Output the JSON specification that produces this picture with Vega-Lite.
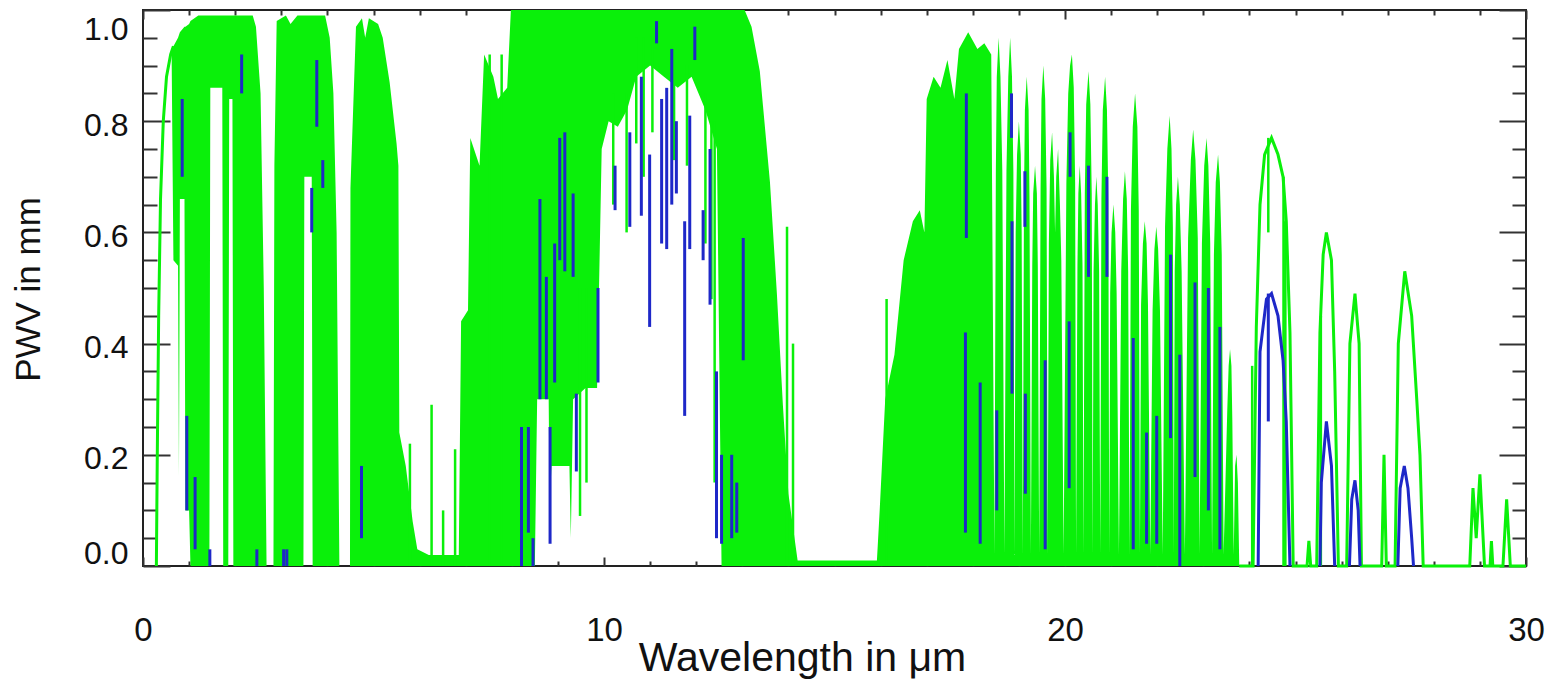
{
  "$schema": "https://vega.github.io/schema/vega-lite/v6.json",
  "width": 1383,
  "height": 556,
  "autosize": {"type": "none"},
  "padding": {"left": 143, "top": 10, "right": 31, "bottom": 115},
  "background": "white",
  "config": {
    "view": {"stroke": "#222", "strokeWidth": 2},
    "axis": {"grid": false, "domain": false, "tickColor": "#333", "tickWidth": 2, "labelFont": "Liberation Sans", "titleFont": "Liberation Sans", "labelColor": "#111", "titleColor": "#111", "titleFontWeight": "normal"}
  },
  "datasets": {
    "greenArea": [
      {"w":0.62,"t":0.93,"b":0.93},{"w":0.66,"t":0.935,"b":0.55},{"w":0.76,"t":0.95,"b":0.54},{"w":0.78,"t":0.955,"b":0.16},{"w":0.80,"t":0.96,"b":0.66},{"w":0.90,"t":0.97,"b":0.66},{"w":0.92,"t":0.97,"b":0.10},{"w":1.00,"t":0.975,"b":0.10},{"w":1.03,"t":0.98,"b":0.0},{"w":1.20,"t":0.99,"b":0.0},{"w":1.44,"t":0.99,"b":0.0},{"w":1.46,"t":0.99,"b":0.86},{"w":1.72,"t":0.99,"b":0.86},{"w":1.74,"t":0.99,"b":0.0},{"w":1.85,"t":0.99,"b":0.0},{"w":1.87,"t":0.99,"b":0.84},{"w":1.94,"t":0.99,"b":0.84},{"w":1.96,"t":0.99,"b":0.0},{"w":2.38,"t":0.99,"b":0.0},{"w":2.45,"t":0.97,"b":0.0},{"w":2.55,"t":0.85,"b":0.0},{"w":2.62,"t":0.5,"b":0.0},{"w":2.68,"t":0.0,"b":0.0},
      {"w":2.83,"t":0.0,"b":0.0},{"w":2.85,"t":0.72,"b":0.0},{"w":2.90,"t":0.98,"b":0.0},{"w":3.10,"t":0.99,"b":0.0},{"w":3.20,"t":0.975,"b":0.0},{"w":3.35,"t":0.99,"b":0.0},{"w":3.48,"t":0.99,"b":0.0},{"w":3.50,"t":0.99,"b":0.70},{"w":3.66,"t":0.99,"b":0.70},{"w":3.68,"t":0.99,"b":0.0},{"w":3.95,"t":0.99,"b":0.0},{"w":4.05,"t":0.95,"b":0.0},{"w":4.13,"t":0.85,"b":0.0},{"w":4.20,"t":0.6,"b":0.0},{"w":4.26,"t":0.0,"b":0.0},
      {"w":4.49,"t":0.0,"b":0.0},{"w":4.50,"t":0.68,"b":0.0},{"w":4.62,"t":0.97,"b":0.0},{"w":4.75,"t":0.985,"b":0.0},{"w":4.82,"t":0.95,"b":0.0},{"w":4.90,"t":0.985,"b":0.0},{"w":5.10,"t":0.975,"b":0.0},{"w":5.20,"t":0.95,"b":0.0},{"w":5.35,"t":0.87,"b":0.0},{"w":5.50,"t":0.76,"b":0.0},{"w":5.54,"t":0.72,"b":0.0},{"w":5.56,"t":0.24,"b":0.0},{"w":5.70,"t":0.18,"b":0.0},{"w":5.85,"t":0.08,"b":0.0},{"w":5.95,"t":0.03,"b":0.0},{"w":6.20,"t":0.02,"b":0.0},{"w":6.85,"t":0.02,"b":0.0},
      {"w":6.90,"t":0.44,"b":0.0},{"w":7.05,"t":0.46,"b":0.0},{"w":7.10,"t":0.77,"b":0.0},{"w":7.30,"t":0.72,"b":0.0},{"w":7.40,"t":0.92,"b":0.0},{"w":7.60,"t":0.88,"b":0.0},{"w":7.70,"t":0.84,"b":0.0},{"w":7.90,"t":0.86,"b":0.0},{"w":7.98,"t":1.0,"b":0.0},{"w":8.50,"t":1.0,"b":0.0},{"w":8.55,"t":1.0,"b":0.30},{"w":8.80,"t":1.0,"b":0.30},{"w":8.82,"t":1.0,"b":0.10},{"w":8.86,"t":1.0,"b":0.18},{"w":9.25,"t":1.0,"b":0.18},{"w":9.28,"t":1.0,"b":0.05},{"w":9.33,"t":1.0,"b":0.30},{"w":9.60,"t":1.0,"b":0.32},{"w":9.85,"t":1.0,"b":0.32},{"w":9.95,"t":1.0,"b":0.75},
      {"w":10.1,"t":1.0,"b":0.80},{"w":10.3,"t":1.0,"b":0.79},{"w":10.5,"t":1.0,"b":0.82},{"w":10.7,"t":1.0,"b":0.88},{"w":11.0,"t":1.0,"b":0.90},{"w":11.3,"t":1.0,"b":0.88},{"w":11.6,"t":1.0,"b":0.86},{"w":11.9,"t":1.0,"b":0.88},{"w":12.2,"t":1.0,"b":0.82},{"w":12.45,"t":1.0,"b":0.75},{"w":12.55,"t":1.0,"b":0.0},{"w":13.05,"t":1.0,"b":0.0},{"w":13.20,"t":0.97,"b":0.0},{"w":13.38,"t":0.89,"b":0.0},{"w":13.60,"t":0.69,"b":0.0},{"w":13.75,"t":0.49,"b":0.0},{"w":13.88,"t":0.29,"b":0.0},{"w":14.0,"t":0.13,"b":0.0},{"w":14.2,"t":0.01,"b":0.0},{"w":15.92,"t":0.01,"b":0.0},
      {"w":15.98,"t":0.10,"b":0.0},{"w":16.10,"t":0.30,"b":0.0},{"w":16.25,"t":0.36,"b":0.0},{"w":16.30,"t":0.38,"b":0.0},{"w":16.50,"t":0.55,"b":0.0},{"w":16.70,"t":0.62,"b":0.0},{"w":16.85,"t":0.64,"b":0.0},{"w":16.95,"t":0.60,"b":0.0},{"w":17.00,"t":0.84,"b":0.0},{"w":17.15,"t":0.88,"b":0.0},{"w":17.30,"t":0.86,"b":0.0},{"w":17.45,"t":0.91,"b":0.0},{"w":17.60,"t":0.84,"b":0.0},{"w":17.70,"t":0.93,"b":0.0},{"w":17.90,"t":0.96,"b":0.0},{"w":18.10,"t":0.93,"b":0.0},{"w":18.25,"t":0.94,"b":0.0},{"w":18.40,"t":0.92,"b":0.0},
      {"w":18.47,"t":0.02,"b":0.0},{"w":18.50,"t":0.71,"b":0.0},{"w":18.52,"t":0.88,"b":0.0},{"w":18.56,"t":0.95,"b":0.0},{"w":18.60,"t":0.88,"b":0.0},{"w":18.64,"t":0.71,"b":0.0},{"w":18.685,"t":0.02,"b":0.0},
      {"w":18.73,"t":0.71,"b":0.0},{"w":18.77,"t":0.88,"b":0.0},{"w":18.81,"t":0.95,"b":0.0},{"w":18.85,"t":0.88,"b":0.0},{"w":18.88,"t":0.71,"b":0.0},{"w":18.905,"t":0.02,"b":0.0},
      {"w":18.93,"t":0.60,"b":0.0},{"w":18.96,"t":0.74,"b":0.0},{"w":19.0,"t":0.80,"b":0.0},{"w":19.04,"t":0.74,"b":0.0},{"w":19.06,"t":0.60,"b":0.0},{"w":19.085,"t":0.02,"b":0.0},
      {"w":19.11,"t":0.66,"b":0.0},{"w":19.13,"t":0.82,"b":0.0},{"w":19.17,"t":0.88,"b":0.0},{"w":19.21,"t":0.82,"b":0.0},{"w":19.23,"t":0.66,"b":0.0},{"w":19.26,"t":0.02,"b":0.0},
      {"w":19.29,"t":0.54,"b":0.0},{"w":19.31,"t":0.67,"b":0.0},{"w":19.35,"t":0.72,"b":0.0},{"w":19.39,"t":0.67,"b":0.0},{"w":19.41,"t":0.54,"b":0.0},{"w":19.44,"t":0.02,"b":0.0},
      {"w":19.47,"t":0.68,"b":0.0},{"w":19.49,"t":0.84,"b":0.0},{"w":19.53,"t":0.90,"b":0.0},{"w":19.57,"t":0.84,"b":0.0},{"w":19.60,"t":0.68,"b":0.0},{"w":19.625,"t":0.02,"b":0.0},
      {"w":19.65,"t":0.58,"b":0.0},{"w":19.68,"t":0.73,"b":0.0},{"w":19.72,"t":0.78,"b":0.0},{"w":19.76,"t":0.70,"b":0.0},{"w":19.785,"t":0.60,"b":0.0},{"w":19.81,"t":0.70,"b":0.0},{"w":19.85,"t":0.75,"b":0.0},{"w":19.89,"t":0.65,"b":0.0},{"w":19.92,"t":0.55,"b":0.0},{"w":19.97,"t":0.02,"b":0.0},
      {"w":20.03,"t":0.69,"b":0.0},{"w":20.07,"t":0.85,"b":0.0},{"w":20.11,"t":0.90,"b":0.0},{"w":20.15,"t":0.92,"b":0.0},{"w":20.19,"t":0.86,"b":0.0},{"w":20.22,"t":0.69,"b":0.0},{"w":20.24,"t":0.02,"b":0.0},
      {"w":20.27,"t":0.54,"b":0.0},{"w":20.29,"t":0.67,"b":0.0},{"w":20.32,"t":0.72,"b":0.0},{"w":20.35,"t":0.67,"b":0.0},{"w":20.38,"t":0.54,"b":0.0},{"w":20.40,"t":0.02,"b":0.0},
      {"w":20.43,"t":0.67,"b":0.0},{"w":20.46,"t":0.83,"b":0.0},{"w":20.51,"t":0.89,"b":0.0},{"w":20.55,"t":0.83,"b":0.0},{"w":20.58,"t":0.67,"b":0.0},{"w":20.60,"t":0.02,"b":0.0},
      {"w":20.62,"t":0.53,"b":0.0},{"w":20.65,"t":0.65,"b":0.0},{"w":20.68,"t":0.70,"b":0.0},{"w":20.71,"t":0.65,"b":0.0},{"w":20.74,"t":0.53,"b":0.0},{"w":20.765,"t":0.02,"b":0.0},
      {"w":20.79,"t":0.66,"b":0.0},{"w":20.82,"t":0.82,"b":0.0},{"w":20.87,"t":0.88,"b":0.0},{"w":20.91,"t":0.82,"b":0.0},{"w":20.94,"t":0.66,"b":0.0},{"w":20.96,"t":0.02,"b":0.0},
      {"w":20.98,"t":0.49,"b":0.0},{"w":21.01,"t":0.60,"b":0.0},{"w":21.05,"t":0.65,"b":0.0},{"w":21.09,"t":0.60,"b":0.0},{"w":21.12,"t":0.49,"b":0.0},{"w":21.17,"t":0.02,"b":0.0},
      {"w":21.22,"t":0.53,"b":0.0},{"w":21.26,"t":0.66,"b":0.0},{"w":21.30,"t":0.71,"b":0.0},{"w":21.34,"t":0.66,"b":0.0},{"w":21.37,"t":0.53,"b":0.0},{"w":21.40,"t":0.02,"b":0.0},
      {"w":21.43,"t":0.64,"b":0.0},{"w":21.47,"t":0.79,"b":0.0},{"w":21.52,"t":0.85,"b":0.0},{"w":21.57,"t":0.79,"b":0.0},{"w":21.60,"t":0.64,"b":0.0},{"w":21.625,"t":0.02,"b":0.0},
      {"w":21.65,"t":0.47,"b":0.0},{"w":21.69,"t":0.58,"b":0.0},{"w":21.73,"t":0.62,"b":0.0},{"w":21.77,"t":0.58,"b":0.0},{"w":21.80,"t":0.47,"b":0.0},{"w":21.85,"t":0.02,"b":0.0},
      {"w":21.90,"t":0.46,"b":0.0},{"w":21.94,"t":0.57,"b":0.0},{"w":21.98,"t":0.61,"b":0.0},{"w":22.02,"t":0.57,"b":0.0},{"w":22.06,"t":0.46,"b":0.0},{"w":22.12,"t":0.02,"b":0.0},
      {"w":22.17,"t":0.61,"b":0.0},{"w":22.22,"t":0.75,"b":0.0},{"w":22.27,"t":0.81,"b":0.0},{"w":22.31,"t":0.75,"b":0.0},{"w":22.34,"t":0.61,"b":0.0},{"w":22.36,"t":0.02,"b":0.0},
      {"w":22.38,"t":0.53,"b":0.0},{"w":22.41,"t":0.65,"b":0.0},{"w":22.45,"t":0.70,"b":0.0},{"w":22.49,"t":0.65,"b":0.0},{"w":22.53,"t":0.53,"b":0.0},{"w":22.60,"t":0.02,"b":0.0},
      {"w":22.67,"t":0.59,"b":0.0},{"w":22.73,"t":0.73,"b":0.0},{"w":22.78,"t":0.785,"b":0.0},{"w":22.83,"t":0.73,"b":0.0},{"w":22.88,"t":0.59,"b":0.0},{"w":22.92,"t":0.02,"b":0.0},
      {"w":22.97,"t":0.58,"b":0.0},{"w":23.02,"t":0.72,"b":0.0},{"w":23.07,"t":0.77,"b":0.0},{"w":23.11,"t":0.72,"b":0.0},{"w":23.15,"t":0.58,"b":0.0},{"w":23.19,"t":0.02,"b":0.0},
      {"w":23.23,"t":0.56,"b":0.0},{"w":23.27,"t":0.69,"b":0.0},{"w":23.32,"t":0.74,"b":0.0},{"w":23.36,"t":0.69,"b":0.0},{"w":23.40,"t":0.56,"b":0.0},{"w":23.44,"t":0.02,"b":0.0},
      {"w":23.52,"t":0.28,"b":0.0},{"w":23.55,"t":0.36,"b":0.0},{"w":23.58,"t":0.39,"b":0.0},{"w":23.61,"t":0.36,"b":0.0},{"w":23.63,"t":0.26,"b":0.0},{"w":23.66,"t":0.02,"b":0.0},
      {"w":23.69,"t":0.18,"b":0.0},{"w":23.72,"t":0.20,"b":0.0},{"w":23.75,"t":0.15,"b":0.0},{"w":23.78,"t":0.0,"b":0.0}
    ],
    "greenRules": [
      {"w":5.79,"a":0,"b":0.22},{"w":6.26,"a":0,"b":0.29},{"w":6.51,"a":0,"b":0.10},{"w":6.77,"a":0,"b":0.21},{"w":7.52,"a":0,"b":0.92},{"w":7.78,"a":0,"b":0.92},{"w":9.48,"a":0.09,"b":0.5},{"w":9.62,"a":0.15,"b":0.5},
      {"w":10.20,"a":0.65,"b":0.85},{"w":10.49,"a":0.60,"b":0.85},{"w":10.70,"a":0.76,"b":0.95},{"w":10.86,"a":0.70,"b":0.95},{"w":11.05,"a":0.78,"b":0.95},{"w":11.52,"a":0.73,"b":0.9},{"w":11.80,"a":0.72,"b":0.9},{"w":12.20,"a":0.58,"b":0.85},{"w":12.33,"a":0.48,"b":0.8},{"w":12.40,"a":0.15,"b":0.8},
      {"w":13.97,"a":0,"b":0.61},{"w":14.10,"a":0,"b":0.40},{"w":16.13,"a":0,"b":0.48},{"w":24.06,"a":0,"b":0.36},{"w":24.41,"a":0.60,"b":0.77},{"w":24.74,"a":0,"b":0.70},{"w":24.78,"a":0,"b":0.62},{"w":25.55,"a":0,"b":0.45}
    ],
    "greenLines": [
      {"s":1,"w":0.29,"y":0},{"s":1,"w":0.31,"y":0.2},{"s":1,"w":0.34,"y":0.45},{"s":1,"w":0.38,"y":0.66},{"s":1,"w":0.44,"y":0.80},{"s":1,"w":0.51,"y":0.88},{"s":1,"w":0.60,"y":0.92},{"s":1,"w":0.66,"y":0.935},
      {"s":2,"w":23.78,"y":0},{"s":2,"w":24.08,"y":0},{"s":2,"w":24.15,"y":0.43},{"s":2,"w":24.23,"y":0.65},{"s":2,"w":24.33,"y":0.74},{"s":2,"w":24.48,"y":0.77},{"s":2,"w":24.62,"y":0.74},{"s":2,"w":24.73,"y":0.70},{"s":2,"w":24.80,"y":0.62},{"s":2,"w":24.88,"y":0.42},{"s":2,"w":24.95,"y":0},{"s":2,"w":25.25,"y":0},{"s":2,"w":25.29,"y":0.045},{"s":2,"w":25.33,"y":0},{"s":2,"w":25.46,"y":0},{"s":2,"w":25.53,"y":0.42},{"s":2,"w":25.60,"y":0.56},{"s":2,"w":25.67,"y":0.60},{"s":2,"w":25.78,"y":0.55},{"s":2,"w":25.85,"y":0.35},{"s":2,"w":25.93,"y":0},{"s":2,"w":26.11,"y":0},{"s":2,"w":26.18,"y":0.40},{"s":2,"w":26.29,"y":0.49},{"s":2,"w":26.38,"y":0.40},{"s":2,"w":26.43,"y":0},{"s":2,"w":26.87,"y":0},{"s":2,"w":26.92,"y":0.20},{"s":2,"w":26.97,"y":0},{"s":2,"w":27.16,"y":0},{"s":2,"w":27.23,"y":0.40},{"s":2,"w":27.37,"y":0.53},{"s":2,"w":27.52,"y":0.45},{"s":2,"w":27.63,"y":0.30},{"s":2,"w":27.70,"y":0.20},{"s":2,"w":27.77,"y":0},{"s":2,"w":28.78,"y":0},{"s":2,"w":28.85,"y":0.14},{"s":2,"w":28.92,"y":0.05},{"s":2,"w":29.0,"y":0.165},{"s":2,"w":29.1,"y":0},{"s":2,"w":29.22,"y":0},{"s":2,"w":29.25,"y":0.045},{"s":2,"w":29.28,"y":0},{"s":2,"w":29.50,"y":0},{"s":2,"w":29.58,"y":0.12},{"s":2,"w":29.66,"y":0},{"s":2,"w":30,"y":0}
    ],
    "blueRules": [
      {"w":0.85,"a":0.70,"b":0.84},{"w":0.95,"a":0.10,"b":0.27},{"w":1.13,"a":0.03,"b":0.16},{"w":1.45,"a":0,"b":0.03},{"w":2.14,"a":0.85,"b":0.92},{"w":2.47,"a":0,"b":0.03},{"w":3.05,"a":0,"b":0.03},{"w":3.12,"a":0,"b":0.03},{"w":3.66,"a":0.60,"b":0.68},{"w":3.77,"a":0.79,"b":0.91},{"w":3.90,"a":0.68,"b":0.73},{"w":4.74,"a":0.05,"b":0.18},
      {"w":8.21,"a":0,"b":0.25},{"w":8.36,"a":0.06,"b":0.25},{"w":8.46,"a":0,"b":0.05},{"w":8.61,"a":0.30,"b":0.66},{"w":8.75,"a":0.30,"b":0.52},{"w":8.83,"a":0.04,"b":0.25},{"w":8.93,"a":0.33,"b":0.58},{"w":9.04,"a":0.55,"b":0.77},{"w":9.15,"a":0.53,"b":0.78},{"w":9.33,"a":0.52,"b":0.67},{"w":9.40,"a":0.17,"b":0.31},{"w":9.87,"a":0.33,"b":0.50},
      {"w":10.24,"a":0.64,"b":0.72},{"w":10.56,"a":0.61,"b":0.78},{"w":10.81,"a":0.63,"b":0.88},{"w":10.99,"a":0.43,"b":0.74},{"w":11.14,"a":0.94,"b":0.98},{"w":11.25,"a":0.58,"b":0.84},{"w":11.36,"a":0.57,"b":0.86},{"w":11.47,"a":0.65,"b":0.93},{"w":11.57,"a":0.67,"b":0.80},{"w":11.75,"a":0.27,"b":0.62},{"w":11.86,"a":0.57,"b":0.81},{"w":11.97,"a":0.91,"b":0.97},{"w":12.15,"a":0.55,"b":0.64},{"w":12.30,"a":0.47,"b":0.75},{"w":12.44,"a":0.05,"b":0.35},{"w":12.55,"a":0.04,"b":0.20},{"w":12.77,"a":0.05,"b":0.20},{"w":12.88,"a":0.06,"b":0.15},{"w":13.02,"a":0.37,"b":0.59},
      {"w":17.86,"a":0.59,"b":0.85},{"w":17.84,"a":0.06,"b":0.42},{"w":18.16,"a":0.04,"b":0.33},{"w":18.52,"a":0.10,"b":0.28},{"w":18.84,"a":0.77,"b":0.85},{"w":18.85,"a":0.31,"b":0.62},{"w":19.13,"a":0.61,"b":0.71},{"w":19.14,"a":0.13,"b":0.31},{"w":19.57,"a":0.03,"b":0.37},{"w":20.11,"a":0.70,"b":0.78},{"w":20.09,"a":0.14,"b":0.44},{"w":20.51,"a":0.52,"b":0.72},{"w":20.91,"a":0.52,"b":0.70},{"w":21.48,"a":0.03,"b":0.41},{"w":21.77,"a":0.04,"b":0.24},{"w":21.99,"a":0.04,"b":0.27},{"w":22.29,"a":0.23,"b":0.56},{"w":22.49,"a":0.0,"b":0.38},{"w":22.82,"a":0.16,"b":0.51},{"w":23.11,"a":0.10,"b":0.50},{"w":23.36,"a":0.03,"b":0.43},{"w":24.41,"a":0.26,"b":0.49}
    ],
    "blueLines": [
      {"s":1,"w":24.19,"y":0},{"s":1,"w":24.23,"y":0.385},{"s":1,"w":24.37,"y":0.48},{"s":1,"w":24.48,"y":0.49},{"s":1,"w":24.62,"y":0.45},{"s":1,"w":24.73,"y":0.37},{"s":1,"w":24.80,"y":0.26},{"s":1,"w":24.88,"y":0},
      {"s":2,"w":25.53,"y":0},{"s":2,"w":25.56,"y":0.15},{"s":2,"w":25.67,"y":0.26},{"s":2,"w":25.78,"y":0.18},{"s":2,"w":25.85,"y":0},
      {"s":3,"w":26.17,"y":0},{"s":3,"w":26.22,"y":0.12},{"s":3,"w":26.29,"y":0.154},{"s":3,"w":26.36,"y":0.10},{"s":3,"w":26.40,"y":0},
      {"s":4,"w":27.22,"y":0},{"s":4,"w":27.27,"y":0.14},{"s":4,"w":27.36,"y":0.18},{"s":4,"w":27.44,"y":0.14},{"s":4,"w":27.52,"y":0.05},{"s":4,"w":27.56,"y":0}
    ]
  },
  "resolve": {"axis": {"x": "independent", "y": "independent"}},
  "layer": [
    {
      "data": {"name": "greenArea"},
      "mark": {"type": "area", "color": "#0af00a", "interpolate": "linear"},
      "encoding": {
        "x": {"field": "w", "type": "quantitative", "scale": {"domain": [0, 30], "nice": false, "zero": false},
          "axis": {"orient": "bottom", "values": [0, 10, 20, 30], "tickSize": -9, "labelFontSize": 33, "labelPadding": 57, "labelFlush": false, "title": "Wavelength in μm", "titleFontSize": 41, "titleX": 659, "titleY": 104, "titleAnchor": null, "titleAlign": "center", "titleBaseline": "alphabetic"}},
        "y": {"field": "t", "type": "quantitative", "scale": {"domain": [0, 1], "nice": false},
          "axis": {"orient": "left", "values": [0, 0.2, 0.4, 0.6, 0.8, 1.0], "format": ".1f", "tickSize": -27, "labelFontSize": 32, "labelPadding": 42, "labelFlush": true, "labelOffset": 4, "title": "PWV in mm", "titleFontSize": 35, "titleAngle": 270, "titleX": -115, "titleY": 279, "titleAlign": "center", "titleBaseline": "middle"}},
        "y2": {"field": "b"}
      }
    },
    {
      "data": {"name": "greenRules"},
      "mark": {"type": "rule", "color": "#0af00a", "strokeWidth": 2.5},
      "encoding": {
        "x": {"field": "w", "type": "quantitative", "axis": {"orient": "bottom", "values": [1,2,3,4,5,6,7,8,9,11,12,13,14,15,16,17,18,19,21,22,23,24,25,26,27,28,29], "tickSize": -5, "labels": false, "title": null}},
        "y": {"field": "a", "type": "quantitative", "axis": {"orient": "left", "values": [0.05,0.1,0.15,0.25,0.3,0.35,0.45,0.5,0.55,0.65,0.7,0.75,0.85,0.9,0.95], "tickSize": -14, "labels": false, "title": null}},
        "y2": {"field": "b"}
      }
    },
    {
      "data": {"name": "greenLines"},
      "mark": {"type": "line", "color": "#0af00a", "strokeWidth": 3},
      "encoding": {
        "x": {"field": "w", "type": "quantitative", "axis": {"orient": "top", "values": [0, 10, 20, 30], "tickSize": -9, "labels": false, "title": null}},
        "y": {"field": "y", "type": "quantitative", "axis": {"orient": "right", "values": [0, 0.2, 0.4, 0.6, 0.8, 1.0], "tickSize": -27, "labels": false, "title": null}},
        "detail": {"field": "s"}
      }
    },
    {
      "data": {"name": "blueRules"},
      "mark": {"type": "rule", "color": "#1e28c8", "strokeWidth": 3},
      "encoding": {
        "x": {"field": "w", "type": "quantitative", "axis": {"orient": "top", "values": [1,2,3,4,5,6,7,8,9,11,12,13,14,15,16,17,18,19,21,22,23,24,25,26,27,28,29], "tickSize": -5, "labels": false, "title": null}},
        "y": {"field": "a", "type": "quantitative", "axis": {"orient": "right", "values": [0.05,0.1,0.15,0.25,0.3,0.35,0.45,0.5,0.55,0.65,0.7,0.75,0.85,0.9,0.95], "tickSize": -14, "labels": false, "title": null}},
        "y2": {"field": "b"}
      }
    },
    {
      "data": {"name": "blueLines"},
      "mark": {"type": "line", "color": "#1e28c8", "strokeWidth": 3},
      "encoding": {
        "x": {"field": "w", "type": "quantitative", "axis": null},
        "y": {"field": "y", "type": "quantitative", "axis": null},
        "detail": {"field": "s"}
      }
    }
  ]
}
